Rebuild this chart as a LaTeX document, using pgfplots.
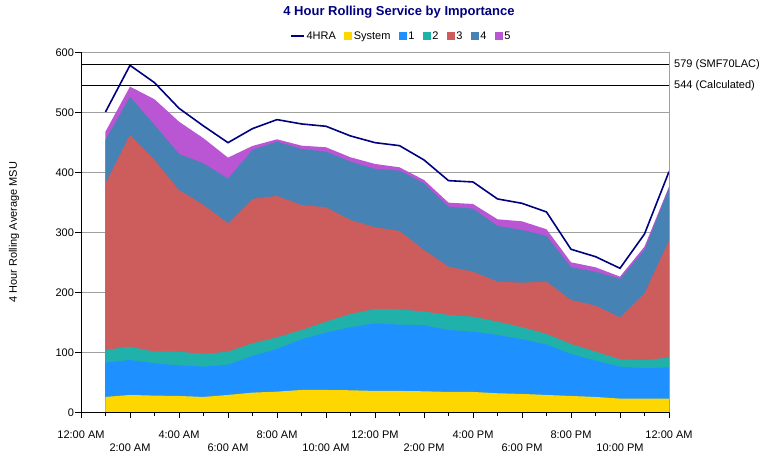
\documentclass[border=0pt]{standalone}
\usepackage{pgfplots}
\pgfplotsset{compat=1.18}
\usepackage{pgfplotstable}
\usepackage{fontspec}
\setmainfont{Liberation Sans}

\definecolor{hra}{RGB}{0,0,128}
\definecolor{sysc}{RGB}{255,215,0}
\definecolor{c1}{RGB}{30,144,255}
\definecolor{c2}{RGB}{32,178,170}
\definecolor{c3}{RGB}{205,92,92}
\definecolor{c4}{RGB}{70,130,180}
\definecolor{c5}{RGB}{186,85,211}
\definecolor{gridc}{RGB}{160,160,160}

% cumulative tops of the stacked areas
\pgfplotstableread{
h  sys  one   two   three four  five  hra
1  25.6 82.8  103.9 381.7 453.9 467.8 500.6
2  28.9 87.2  109.4 462.0 526.0 542.8 578.3
3  27.8 81.7  101.0 420.6 479.0 521.7 549.4
4  27.2 78.3  101.0 370.6 430.6 484.4 506.7
5  25.6 76.1  97.2  345.6 415.0 456.7 477.2
6  28.9 79.4  101.0 315.0 389.4 424.4 449.4
7  32.8 93.9  115.0 355.6 437.2 443.9 472.8
8  34.4 105.6 125.0 360.6 451.1 455.0 487.8
9  37.2 121.7 137.0 345.6 438.9 444.4 480.6
10 37.2 132.8 151.0 341.7 434.4 441.7 476.7
11 36.7 141.7 163.9 320.6 417.8 425.0 460.6
12 35.6 148.3 172.2 308.3 405.6 413.9 449.4
13 35.6 146.1 171.7 302.2 402.8 408.3 444.4
14 35.0 145.0 167.8 270.6 381.7 387.2 420.6
15 33.9 137.2 162.2 242.8 342.8 349.4 386.1
16 33.9 134.4 159.4 234.4 339.4 347.2 383.9
17 31.7 128.9 151.1 217.8 310.6 321.7 355.6
18 30.6 121.7 141.7 216.1 303.9 318.3 348.3
19 28.9 112.8 130.6 217.8 293.9 305.0 333.9
20 27.2 97.2  113.9 187.2 241.7 250.0 271.7
21 25.6 86.1  101.1 177.8 234.4 241.7 259.4
22 22.8 76.1  88.3  158.3 222.2 226.1 240.0
23 22.8 73.3  87.2  198.3 270.6 276.1 297.2
24 22.8 75.0  91.1  286.1 373.3 376.1 401.1
}\data

\begin{document}
\begin{tikzpicture}[font=\fontsize{11bp}{13bp}\selectfont]
\useasboundingbox (-81bp,-40.7bp) rectangle (687bp,412.3bp);
\begin{axis}[
  scale only axis, width=588bp, height=360bp,
  xmin=0, xmax=24, ymin=0, ymax=600,
  clip=false,
  axis x line*=bottom, axis y line*=left,
  axis line style={black, line width=0.8bp},
  ytick={0,100,...,600},
  ymajorgrids, grid style={gridc, line width=0.8bp},
  xtick={0,4,...,24},
  xticklabels={12:00 AM,4:00 AM,8:00 AM,12:00 PM,4:00 PM,8:00 PM,12:00 AM},
  extra x ticks={2,6,...,22},
  extra x tick labels={2:00 AM,6:00 AM,10:00 AM,2:00 PM,6:00 PM,10:00 PM},
  extra x tick style={xticklabel style={yshift=-13bp}},
  minor xtick={1,3,...,23},
  xtick align=outside, ytick align=outside,
  major tick length=6bp, minor tick length=3.5bp,
  tick style={black, line width=0.8bp},
  /pgf/number format/assume math mode=true,
  xticklabel style={yshift=-9bp},
  yticklabel style={xshift=2.5bp},
  ylabel={4 Hour Rolling Average MSU},
  ylabel style={at={(axis description cs:-0.1139,0.5)}, anchor=center},
  title={4 Hour Rolling Service by Importance},
  title style={at={(axis description cs:0.5408,1.0953)}, anchor=center,
    font=\bfseries\fontsize{13bp}{15bp}\selectfont, text=hra},
  legend columns=-1,
  legend style={at={(axis description cs:0.5442,1.0453)}, anchor=center,
    draw=none, fill=none, inner sep=0pt,
    font=\fontsize{11bp}{13bp}\selectfont,
    /tikz/every even column/.append style={column sep=6.5bp}},
]
\addplot[fill=c5, draw=none, forget plot] table[x=h, y=five] {\data} \closedcycle;
\addplot[fill=c4, draw=none, forget plot] table[x=h, y=four] {\data} \closedcycle;
\addplot[fill=c3, draw=none, forget plot] table[x=h, y=three] {\data} \closedcycle;
\addplot[fill=c2, draw=none, forget plot] table[x=h, y=two] {\data} \closedcycle;
\addplot[fill=c1, draw=none, forget plot] table[x=h, y=one] {\data} \closedcycle;
\addplot[fill=sysc, draw=none, forget plot] table[x=h, y=sys] {\data} \closedcycle;
\addplot[hra, line width=1.6bp, forget plot] table[x=h, y=hra] {\data};
\addplot[black, line width=0.9bp, forget plot] coordinates {(0,579) (24,579)};
\addplot[black, line width=0.9bp, forget plot] coordinates {(0,544) (24,544)};
\node[anchor=west, inner sep=0pt, xshift=5bp] at (axis cs:24,579) {579 (SMF70LAC)};
\node[anchor=west, inner sep=0pt, xshift=5bp] at (axis cs:24,544) {544 (Calculated)};
\draw[gridc, line width=0.8bp] (rel axis cs:1,0) -- (rel axis cs:1,1);
\draw[black, line width=0.8bp] (rel axis cs:0,0) -- (rel axis cs:1,0);

\addlegendimage{legend image code/.code={\draw[hra, line width=2bp] (0bp,0bp) -- (13bp,0bp);}}
\addlegendentry{4HRA}
\addlegendimage{legend image code/.code={\fill[sysc] (0bp,-3.5bp) rectangle (7bp,3.5bp);}}
\addlegendentry{System}
\addlegendimage{legend image code/.code={\fill[c1] (0bp,-3.5bp) rectangle (7bp,3.5bp);}}
\addlegendentry{1}
\addlegendimage{legend image code/.code={\fill[c2] (0bp,-3.5bp) rectangle (7bp,3.5bp);}}
\addlegendentry{2}
\addlegendimage{legend image code/.code={\fill[c3] (0bp,-3.5bp) rectangle (7bp,3.5bp);}}
\addlegendentry{3}
\addlegendimage{legend image code/.code={\fill[c4] (0bp,-3.5bp) rectangle (7bp,3.5bp);}}
\addlegendentry{4}
\addlegendimage{legend image code/.code={\fill[c5] (0bp,-3.5bp) rectangle (7bp,3.5bp);}}
\addlegendentry{5}
\end{axis}
\end{tikzpicture}
\end{document}
